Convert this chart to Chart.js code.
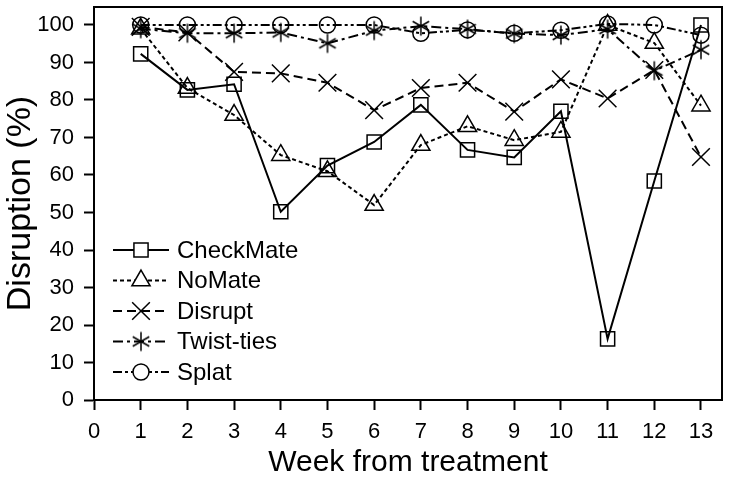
<!DOCTYPE html>
<html>
<head>
<meta charset="utf-8">
<script src="https://cdn.jsdelivr.net/npm/chart.js@4.4.1/dist/chart.umd.min.js"></script>
<style>
  html, body { margin: 0; padding: 0; background: #fff; }
  #wrap { width: 731px; height: 485px; }
</style>
</head>
<body>
<div id="wrap"><canvas id="chart"></canvas></div>
<script>
const weeks = [1, 2, 3, 4, 5, 6, 7, 8, 9, 10, 11, 12, 13];
const checkMate = [92.3, 82.7, 84.2, 50.2, 62.5, 68.8, 78.7, 66.7, 64.7, 77, 16.3, 58.4, 100];
const noMate = [99, 83.2, 76, 65.3, 61, 52, 68, 73, 69.3, 71.5, 100, 95.2, 78.5];
const disrupt = [99.5, 98, 87.5, 87.1, 84.6, 77.3, 83.2, 84.6, 76.9, 85.5, 80.4, 88, 64.8];
const twistTies = [99, 97.8, 97.8, 98, 95.1, 98.5, 99.7, 98.9, 97.7, 97.3, 98.9, 87.8, 93.4];
const splat = [100, 100, 100, 100, 100, 100, 97.8, 98.7, 97.8, 98.6, 100.3, 100, 97.3];
const seriesNames = ["CheckMate", "NoMate", "Disrupt", "Twist-ties", "Splat"];
const xTicks = [0, 1, 2, 3, 4, 5, 6, 7, 8, 9, 10, 11, 12, 13];
const yTicks = [0, 10, 20, 30, 40, 50, 60, 70, 80, 90, 100];

const FONT = "'Liberation Sans', Arial, sans-serif";

// six-spoke asterisk marker
const asterisk = document.createElement("canvas");
asterisk.width = 22;
asterisk.height = 22;
(() => {
  const c = asterisk.getContext("2d");
  c.strokeStyle = "#000";
  c.lineWidth = 1.5;
  c.translate(11, 11);
  [90, 30, -30].forEach(a => {
    const r = 9.5, t = a * Math.PI / 180;
    c.beginPath();
    c.moveTo(-r * Math.cos(t), -r * Math.sin(t));
    c.lineTo(r * Math.cos(t), r * Math.sin(t));
    c.stroke();
  });
})();

const toPoints = (vals) => vals.map((v, i) => ({ x: weeks[i], y: v }));

const styles = [
  { dash: [], point: "rect", radius: 10 },
  { dash: [4, 3], point: "triangle", radius: 10.5 },
  { dash: [9, 5], point: "crossRot", radius: 12.5 },
  { dash: [10, 4, 3, 4], point: asterisk, radius: 10 },
  { dash: [9, 3, 3, 3, 3, 3], point: "circle", radius: 8 }
];

const allData = [checkMate, noMate, disrupt, twistTies, splat];

const datasets = allData.map((vals, i) => ({
  label: seriesNames[i],
  data: toPoints(vals),
  borderColor: "#000",
  borderWidth: 2,
  borderDash: styles[i].dash,
  pointStyle: styles[i].point,
  pointRadius: styles[i].radius,
  pointBorderWidth: 1.5,
  pointBorderColor: "#000",
  pointBackgroundColor: "rgba(255,255,255,0)",
  fill: false,
  tension: 0,
  clip: 15
}));

// box around plot + legend drawn inside the plot
const extras = {
  id: "extras",
  afterDraw(chart) {
    const { ctx, chartArea: a } = chart;
    ctx.save();
    ctx.strokeStyle = "#000";
    ctx.lineWidth = 2;
    ctx.strokeRect(a.left, a.top, a.right - a.left, a.bottom - a.top);

    const x0 = a.left + 19, x1 = a.left + 75, mx = (x0 + x1) / 2;
    let y = 250;
    chart.data.datasets.forEach((ds) => {
      ctx.setLineDash(ds.borderDash);
      ctx.lineWidth = 2;
      ctx.beginPath();
      ctx.moveTo(x0, y);
      ctx.lineTo(x1, y);
      ctx.stroke();
      ctx.setLineDash([]);
      ctx.lineWidth = 1.5;
      ctx.fillStyle = "#fff";
      Chart.helpers.drawPoint(ctx, {
        pointStyle: ds.pointStyle, radius: ds.pointRadius, rotation: 0, borderWidth: 1.5
      }, mx, y);
      ctx.fillStyle = "#000";
      ctx.font = "24px " + FONT;
      ctx.textBaseline = "middle";
      ctx.fillText(ds.label, x1 + 8, y + 1);
      y += 30.5;
    });
    ctx.restore();
  }
};

new Chart(document.getElementById("chart"), {
  type: "line",
  data: { datasets },
  options: {
    responsive: true,
    maintainAspectRatio: false,
    animation: false,
    events: [],
    layout: { autoPadding: false, padding: { top: 7, right: 9, left: 0, bottom: 0 } },
    plugins: { legend: { display: false }, tooltip: { enabled: false } },
    scales: {
      x: {
        type: "linear",
        min: 0,
        max: 13.45,
        afterBuildTicks: (s) => { s.ticks = xTicks.map(v => ({ value: v })); },
        afterFit: (s) => { s.height = 85; s.paddingLeft = 0; s.paddingRight = 0; },
        grid: { display: true, drawOnChartArea: false, tickLength: 10, tickColor: "#000", tickWidth: 2 },
        border: { color: "#000", width: 2 },
        ticks: { color: "#000", padding: 9, font: { family: FONT, size: 22 }, maxRotation: 0 },
        title: { display: true, text: "Week from treatment", color: "#000", padding: { top: 10 }, font: { family: FONT, size: 30 } }
      },
      y: {
        min: 0,
        max: 104.8,
        afterBuildTicks: (s) => { s.ticks = yTicks.map(v => ({ value: v })); },
        afterFit: (s) => { s.width = 94; s.paddingTop = 0; s.paddingBottom = 0; },
        grid: { display: true, drawOnChartArea: false, tickLength: 10, tickColor: "#000", tickWidth: 2 },
        border: { color: "#000", width: 2 },
        ticks: { color: "#000", padding: 10, font: { family: FONT, size: 22 } },
        title: { display: true, text: "Disruption (%)", color: "#000", padding: 0, font: { family: FONT, size: 34 } }
      }
    }
  },
  plugins: [extras]
});
</script>
</body>
</html>
